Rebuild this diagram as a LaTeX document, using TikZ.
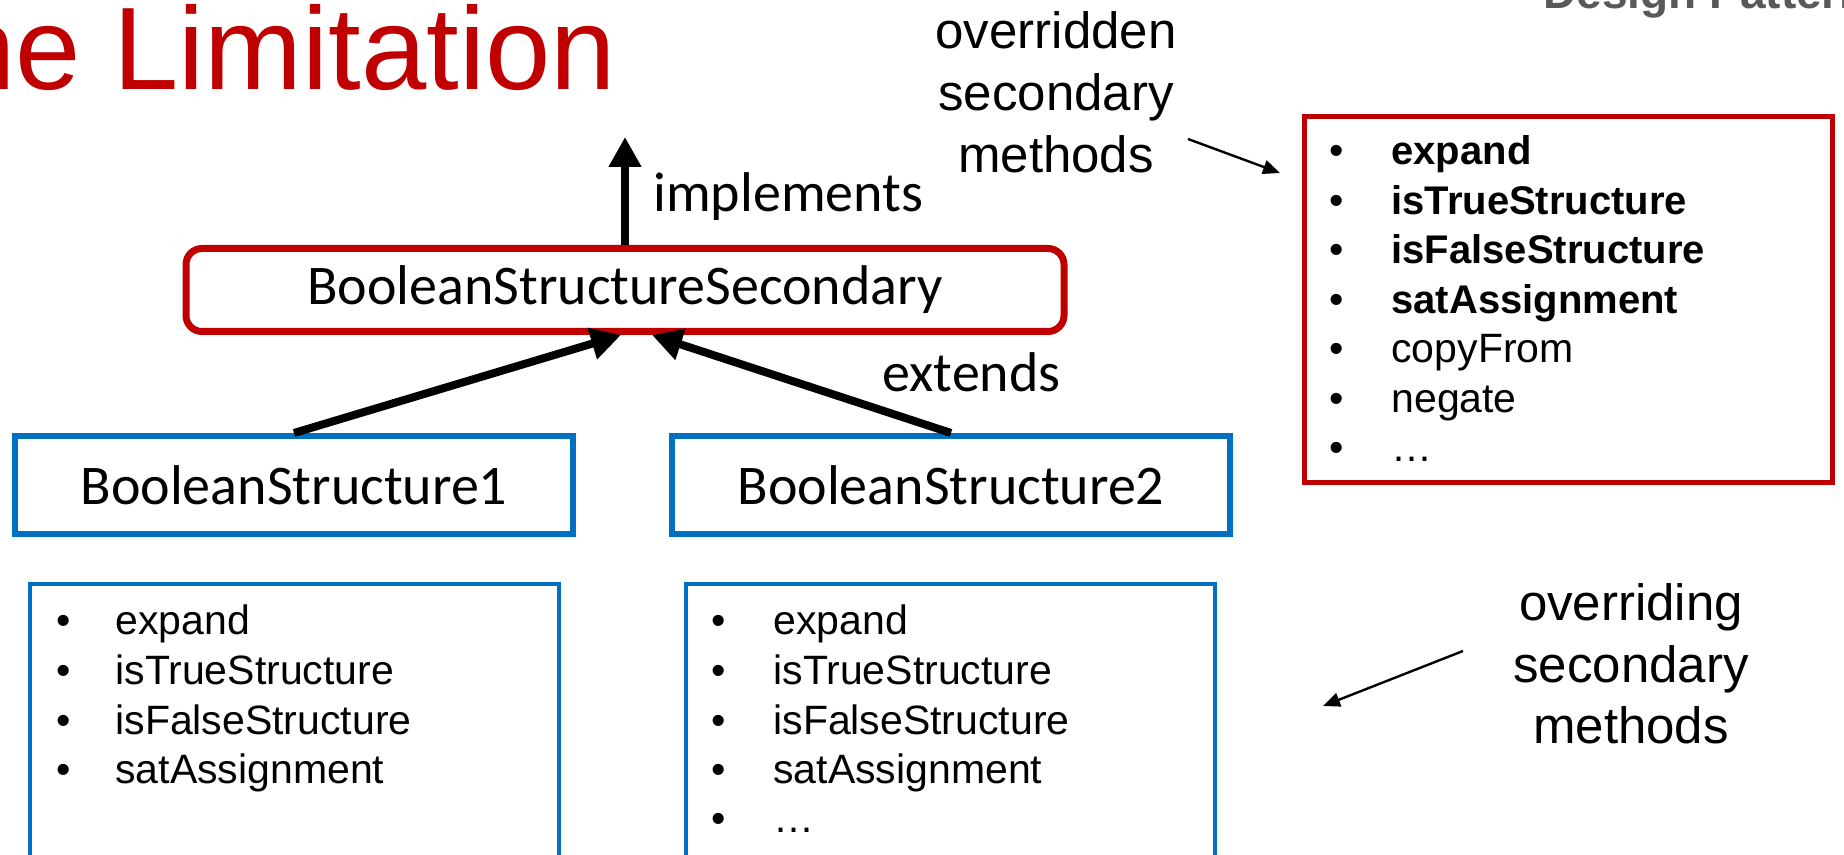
\documentclass[tikz,border=0pt]{standalone}
\usepackage{fontspec}
\setmainfont{Liberation Sans}
\newfontfamily\calib{Carlito}
\usetikzlibrary{arrows.meta,calc}
\definecolor{dred}{HTML}{C00000}
\definecolor{dblue}{HTML}{0070C0}
\definecolor{dgray}{HTML}{595959}
\begin{document}
\begin{tikzpicture}[x=0.5pt,y=-0.5pt,
  cls/.style={draw=dblue,line width=3pt,minimum width=279pt,minimum height=49pt,inner sep=0pt,font=\calib\fontsize{28}{34}\selectfont},
  supcls/.style={draw=dred,line width=3.5pt,rounded corners=8pt,minimum width=439pt,minimum height=41.5pt,inner sep=0pt,font=\calib\fontsize{28}{34}\selectfont},
  redlist/.style={draw=dred,line width=2.5pt,minimum width=264pt,minimum height=183pt,inner sep=0pt},
  bluelist/.style={draw=dblue,line width=2pt,minimum width=264.5pt,minimum height=148pt,inner sep=0pt},
  li/.style={anchor=base west,inner sep=0pt,font=\fontsize{20.5}{24}\selectfont},
  lib/.style={anchor=base west,inner sep=0pt,font=\bfseries\fontsize{20}{24}\selectfont},
  lbl/.style={anchor=base west,inner sep=0pt,font=\calib\fontsize{28}{34}\selectfont},
  note/.style={anchor=base,inner sep=0pt,align=center,font=\fontsize{25.5}{31}\selectfont},
  thickarr/.style={line width=4pt,-{Triangle[length=15pt,width=15.5pt]}},
  thinarr/.style={line width=1.2pt,-{Triangle[length=8.5pt,width=7pt]}}
]
\useasboundingbox (0,0) rectangle (1844,855);
\clip (0,0) rectangle (1844,855);

% title and header
\node[anchor=base west,inner sep=0pt,text=dred,font=\fontsize{58.7}{62}\selectfont] (title) at (-50,90) {he Limitation};
\node[anchor=base west,inner sep=0pt,text=dgray,font=\bfseries\fontsize{23}{26}\selectfont] (hdr) at (1543,9) {Design Patterns};

% class boxes
\node[supcls] (bss) at (625,290) {BooleanStructureSecondary};
\node[cls] (bs1) at (294,485) {BooleanStructure1};
\node[cls] (bs2) at (951,485) {BooleanStructure2};

% arrows
\coordinate (iface) at (625,137);
\draw[thickarr] (bss.north) -- (iface);
\draw[thickarr] (bs1.north) -- ($(bss.south)+(-4,0)$);
\draw[thickarr] (bs2.north) -- ($(bss.south)+(27,0)$);
\node[lbl] (impl) at (653,212) {implements};
\node[lbl] (ext) at (882,392) {extends};

% red list
\node[redlist] (rl) at (1568.5,299.5) {};
\foreach \t [count=\i] in {expand,isTrueStructure,isFalseStructure,satAssignment}{
  \node[li] (rb\i) at (1329,{165+49.5*(\i-1)}) {•};
  \node[lib] (rt\i) at (1391,{165+49.5*(\i-1)}) {\t};
}
\foreach \t [count=\i from 5] in {copyFrom,negate,…}{
  \node[li] (rb\i) at (1329,{165+49.5*(\i-1)}) {•};
  \node[li] (rt\i) at (1391,{165+49.5*(\i-1)}) {\t};
}

% blue lists
\node[bluelist] (ll) at (294.5,732) {};
\node[bluelist] (ml) at (950.5,732) {};
\foreach \t [count=\i] in {expand,isTrueStructure,isFalseStructure,satAssignment}{
  \node[li] (lb\i) at (56,{635+49.5*(\i-1)}) {•};
  \node[li] (lt\i) at (115,{635+49.5*(\i-1)}) {\t};
}
\foreach \t [count=\i] in {expand,isTrueStructure,isFalseStructure,satAssignment,…}{
  \node[li] (mb\i) at (711,{635+49.5*(\i-1)}) {•};
  \node[li] (mt\i) at (773,{635+49.5*(\i-1)}) {\t};
}

% notes
\node[note] (n1) at (1056,173) {overridden\\secondary\\methods};
\coordinate (n1s) at (1188,139);
\coordinate (n1e) at (1280,173);
\draw[thinarr] (n1s) -- (n1e);
\node[note] (n2) at (1631,744) {overriding\\secondary\\methods};
\coordinate (n2s) at (1463,651);
\coordinate (n2e) at (1323,706);
\draw[thinarr] (n2s) -- (n2e);
\end{tikzpicture}
\end{document}
